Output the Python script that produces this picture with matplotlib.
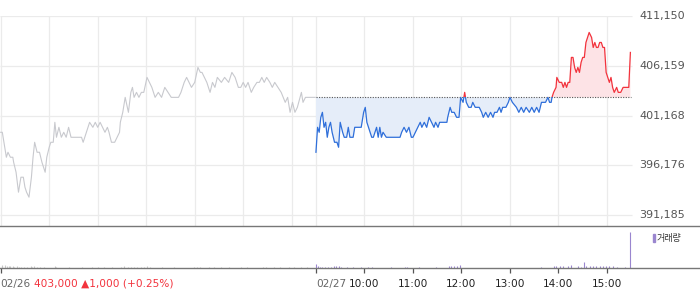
import numpy as np
import matplotlib
matplotlib.use("Agg")
import matplotlib.pyplot as plt
from matplotlib.patches import Rectangle
from matplotlib.transforms import blended_transform_factory

plt.rcParams['font.family'] = ['DejaVu Sans', 'Noto Sans CJK KR']

# ---------------- data ----------------
session_minutes = 390          # 09:00 - 15:30
prev_close = 403000            # 02/26 close (baseline)
day_labels = ['02/26', '02/27']
summary_text = '403,000 \u25b21,000 (+0.25%)'
hour_labels = ['10:00', '11:00', '12:00', '13:00', '14:00', '15:00']
price_ticks = [391185, 396176, 401168, 406159, 411150]
price_tick_labels = ['391,185', '396,176', '401,168', '406,159', '411,150']

# 02/26 (minutes after 09:00, price)
d1_min = [0, 2, 4, 5, 7, 9, 12, 15, 16, 19, 22, 25, 28, 30, 32, 35, 38, 40, 42, 45,
          48, 51, 55, 57, 60, 62, 65, 67, 69, 72, 75, 78, 81, 84, 87, 90, 94, 100, 102, 106,
          108, 110, 114, 117, 120, 123, 126, 129, 132, 134, 137, 141, 144, 147, 148, 151, 154, 158, 161, 163,
          165, 168, 171, 174, 177, 181, 187, 191, 195, 199, 203, 207, 211, 220, 223, 227, 230, 233, 236, 240,
          244, 247, 249, 252, 255, 259, 262, 265, 268, 273, 277, 282, 286, 290, 294, 297, 300, 303, 306, 310,
          313, 317, 320, 323, 326, 329, 333, 336, 339, 343, 347, 352, 355, 358, 361, 364, 367, 372, 374, 377,
          382, 389]
d1_price = [399500, 399500, 398500, 398000, 397000, 397500, 397000, 397000, 396500, 395500,
            393500, 395000, 395000, 394000, 393500, 393000, 395000, 397000, 398500, 397500,
            397500, 396500, 395500, 397000, 398000, 398500, 398500, 400500, 399000, 400000,
            399000, 399500, 399000, 400000, 399000, 399000, 399000, 399000, 398500, 399500,
            400000, 400500, 400000, 400500, 400000, 400500, 400000, 399500, 400000, 399500,
            398500, 398500, 399000, 399500, 400500, 401500, 403000, 401500, 403500, 404000,
            403000, 403500, 403000, 403500, 403500, 405000, 404000, 403000, 403500, 403000,
            404000, 403500, 403000, 403000, 403500, 404500, 405000, 404500, 404000, 404500,
            406000, 405500, 405500, 405000, 404500, 403500, 404500, 404000, 405000, 404500,
            405000, 404500, 405500, 405000, 404000, 404000, 404500, 404000, 404500, 403500,
            404000, 404500, 404500, 405000, 404500, 405000, 404500, 404000, 404500, 404000,
            403500, 402500, 403000, 401500, 402500, 401500, 402000, 403500, 402500, 403000,
            403000, 403000]

# 02/27
d2_min = [0, 2, 4, 6, 8, 10, 12, 14, 16, 18, 20, 23, 26, 28, 30, 33, 35, 38, 40, 42,
          46, 48, 56, 59, 61, 63, 65, 67, 69, 71, 73, 75, 77, 79, 81, 83, 87, 100, 104, 106,
          109, 112, 115, 118, 120, 123, 126, 129, 131, 134, 137, 140, 143, 146, 148, 151, 153, 156, 162, 163,
          166, 168, 171, 174, 177, 179, 182, 184, 186, 189, 192, 194, 197, 200, 202, 205, 207, 210, 213, 216,
          219, 221, 224, 227, 229, 231, 235, 238, 240, 243, 248, 251, 254, 257, 260, 264, 267, 270, 273, 276,
          279, 282, 284, 287, 289, 291, 292, 294, 297, 298, 301, 304, 306, 308, 310, 312, 314, 316, 318, 320,
          322, 324, 326, 328, 330, 332, 334, 336, 338, 341, 343, 345, 347, 349, 351, 353, 355, 357, 359, 361,
          363, 365, 367, 369, 372, 374, 377, 380, 387, 389]
d2_price = [397500, 400000, 399500, 401000, 401500, 400000, 400500, 399000, 400000, 400500,
            399500, 398500, 398500, 398000, 400500, 399500, 399000, 399000, 400000, 399000,
            399000, 400000, 400000, 401500, 402000, 400500, 400000, 399500, 399000, 399000,
            399500, 400000, 399000, 400000, 399000, 399500, 399000, 399000, 399000, 399500,
            400000, 399500, 400000, 399000, 399000, 399500, 400000, 400500, 400000, 400500,
            400000, 401000, 400500, 400000, 400500, 400000, 400500, 400500, 400500, 401000,
            402000, 401500, 401500, 401000, 401000, 403000, 402500, 403500, 402500, 402000,
            402000, 402500, 402000, 402000, 402000, 401500, 401000, 401500, 401000, 401500,
            401000, 401500, 401500, 402000, 401500, 402000, 402000, 402500, 403000, 402500,
            402000, 401500, 402000, 401500, 402000, 401500, 402000, 401500, 402000, 401500,
            402500, 402500, 402500, 403000, 402500, 402500, 403000, 403500, 404000, 405000,
            404500, 404500, 404000, 404500, 404000, 404500, 404500, 407000, 407000, 406000,
            405500, 406000, 405500, 406500, 407000, 407000, 408500, 409000, 409500, 409000,
            408000, 408500, 408000, 408000, 408500, 408500, 408000, 408000, 405500, 405000,
            404500, 405000, 404000, 403500, 404000, 403500, 403500, 404000, 404000, 407500]

# volume (minutes after 09:00, shares)
v1_min = [1, 2, 5, 8, 10, 12, 15, 17, 20, 23, 25, 29, 33, 37, 39, 41, 45, 49, 54, 67,
          69, 85, 101, 113, 120, 128, 138, 149, 153, 157, 161, 165, 169, 173, 177, 181, 185, 200, 214, 239,
          243, 247, 258, 264, 272, 282, 297, 305, 324, 328, 338, 346, 357, 363, 371, 379]
v1_vol = [4500, 3000, 4500, 3000, 3000, 3000, 3000, 2000, 3000, 2000, 2000, 1500, 1500, 3000, 2000,
          3000, 1500, 1500, 1500, 3000, 1500, 1500, 1500, 1500, 1500, 1500, 1500, 2000, 3000, 2000,
          2000, 2000, 2000, 1500, 2000, 3000, 1500, 1500, 1500, 2000, 1500, 1500, 1500, 1500, 1500,
          2000, 1500, 1500, 1500, 1500, 1500, 1500, 1500, 1500, 1500, 1500]
v2_min = [0, 2, 5, 7, 11, 15, 19, 22, 25, 28, 31, 38, 46, 56, 64, 69, 93, 110, 113, 128,
          149, 164, 167, 171, 174, 178, 279, 294, 297, 302, 306, 312, 316, 324, 328, 331, 334, 339, 343, 347,
          351, 355, 359, 363, 367, 372, 382, 389]
v2_vol = [6000, 2500, 2000, 2000, 1500, 1500, 1500, 3000, 3000, 3000, 2000, 1500, 1500, 1500, 1500,
          1500, 1500, 1500, 1500, 1500, 1500, 2500, 3000, 3000, 3000, 4500, 1500, 3000, 2500, 3000,
          2500, 2500, 4500, 2500, 2000, 8500, 3000, 3000, 3000, 3000, 3000, 2500, 3000, 2500, 3000,
          1500, 1500, 54000]

# ---------------- styles ----------------
W, H = 700, 289
GRID = '#ebebeb'
GRAY_LINE = '#c8c9ce'
BLUE = '#2f6fda'
RED = '#f2333d'
BLUE_FILL = '#e5edf9'
RED_FILL = '#fde3e6'
VOL_GRAY = '#c8c8c8'
VOL_PURPLE = '#9a86cf'
AXIS = '#777777'

fig = plt.figure(figsize=(W / 100, H / 100), dpi=100)

def fy(py):
    return 1 - py / H

px_per_min = 48.5 / 60.0
x_left = -0.7 / px_per_min
x_right = (W - 0.7) / px_per_min

# price panel: y 16..226 px
ax = fig.add_axes([0, fy(226), 1, (226 - 16) / H])
# volume panel: y 226..268 px
axv = fig.add_axes([0, fy(268), 1, (268 - 226) / H])

y_per_px = (price_ticks[-1] - price_ticks[0]) / (215.3 - 16)
y_top = price_ticks[-1]
y_bot = price_ticks[0] - (226 - 215.3) * y_per_px

total = 2 * session_minutes
x1 = np.array(d1_min)
p1 = np.array(d1_price)
x2 = session_minutes + np.array(d2_min)
p2 = np.array(d2_price)

for a in (ax, axv):
    a.set_xlim(x_left, x_right)
    a.set_xticks([])
    a.set_yticks([])
    for s in a.spines.values():
        s.set_visible(False)
    a.patch.set_alpha(0)

ax.set_ylim(y_bot, y_top)

# grid
hours = [d * session_minutes + h * 60 for d in range(2) for h in range(7)]
ax.vlines(hours, y_bot, y_top, color=GRID, lw=0.9, zorder=0)
ax.hlines(price_ticks, x_left, total + 0.5, color=GRID, lw=0.9, zorder=0)

# day 1 (gray)
ax.plot(x1, p1, color=GRAY_LINE, lw=0.8, zorder=3)

# day 2 fills
ax.fill_between(x2, p2, prev_close, where=p2 <= prev_close, interpolate=True,
                color=BLUE_FILL, lw=0, zorder=1)
ax.fill_between(x2, p2, prev_close, where=p2 >= prev_close, interpolate=True,
                color=RED_FILL, lw=0, zorder=1)

# baseline
ax.hlines(prev_close, session_minutes, total, color='#555555', lw=0.8,
          linestyles=(0, (1, 1.3)), zorder=2)

# day 2 line, split by baseline
lb, = ax.plot(x2, p2, color=BLUE, lw=0.9, zorder=4)
lb.set_clip_path(Rectangle((session_minutes - 5, y_bot - 5000), session_minutes + 10,
                           prev_close - y_bot + 5000, transform=ax.transData))
lr, = ax.plot(x2, p2, color=RED, lw=0.9, zorder=4)
lr.set_clip_path(Rectangle((session_minutes - 5, prev_close), session_minutes + 10,
                           y_top - prev_close + 5000, transform=ax.transData))

# price labels
tr_p = blended_transform_factory(ax.transAxes, ax.transData)
for v, lab in zip(price_ticks, price_tick_labels):
    ax.text(639.3 / W, v, lab, transform=tr_p, ha='left', va='center',
            fontsize=8, color='#555555', clip_on=False)

# volume panel
vmax = max(v2_vol)
axv.set_ylim(0, vmax * 42 / 36.3)
axv.vlines(np.array(v1_min), 0, v1_vol, color=VOL_GRAY, lw=0.8)
axv.vlines(session_minutes + np.array(v2_min), 0, v2_vol, color=VOL_PURPLE, lw=0.8)
axv.spines['top'].set_visible(True)
axv.spines['top'].set_color(AXIS)
axv.spines['top'].set_linewidth(1.0)
axv.spines['bottom'].set_visible(True)
axv.spines['bottom'].set_color(AXIS)
axv.spines['bottom'].set_linewidth(1.0)

# legend
axv.add_patch(Rectangle((652.7 / W, (268 - 241.7) / 42), 2.2 / W, 7.4 / 42,
                        transform=axv.transAxes, color=VOL_PURPLE, clip_on=False))
axv.text(656.7 / W, (268 - 238.3) / 42, '거래량', transform=axv.transAxes,
         ha='left', va='center', fontsize=6.5, color='#333333',
         family=['Noto Sans CJK KR', 'DejaVu Sans'])

# bottom ticks and labels
tick_pos = [0] + [session_minutes + h * 60 for h in range(7)]
axv.set_xticks(tick_pos)
axv.set_xticklabels([])
axv.tick_params(axis='x', direction='out', length=3.8, width=0.9, color='#555555')

tr_b = blended_transform_factory(axv.transData, fig.transFigure)
ylab = fy(283.7)
fs = 7.6
axv.text(0, ylab, day_labels[0], transform=tr_b, ha='left', va='center',
         fontsize=fs, color='#666666')
axv.text(33.0 / px_per_min, ylab, summary_text, transform=tr_b, ha='left', va='center',
         fontsize=fs, color='#f2333d')
axv.text(session_minutes, ylab, day_labels[1], transform=tr_b, ha='left', va='center',
         fontsize=fs, color='#666666')
for h, lab in enumerate(hour_labels, start=1):
    axv.text(session_minutes + h * 60, ylab, lab, transform=tr_b, ha='center',
             va='center', fontsize=fs, color='#222222')

fig.savefig('out.png', dpi=100)
